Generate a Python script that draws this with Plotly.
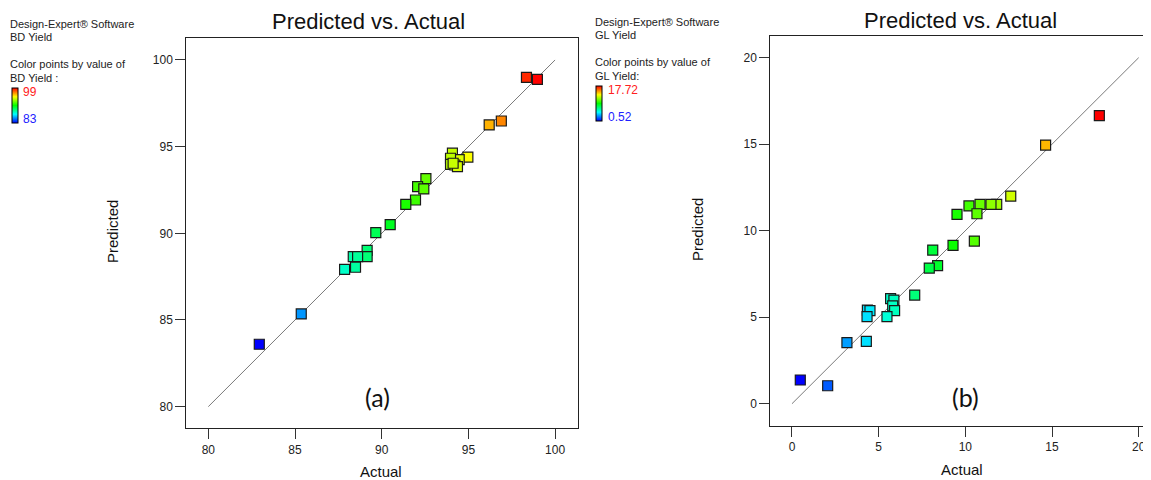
import plotly.graph_objects as go

# page body has an 8px default margin, so the figure is 8px smaller and every
# reference pixel position is shifted by 8px
OFF = 8
W, H = 1151 - OFF, 480 - OFF

# ---------------- data ----------------
bd_actual = [98.35, 98.98, 96.2, 96.9, 94.08, 94.97, 94.47, 93.97, 93.97, 94.22, 94.37, 94.12,
             92.55, 92.07, 92.43, 91.95, 91.39, 90.49, 89.66, 89.16, 89.16, 88.36, 88.61, 88.49,
             87.86, 85.36, 82.94]
bd_pred = [99.0, 98.88, 96.25, 96.48, 94.62, 94.40, 94.25, 94.33, 93.98, 93.94, 93.85, 94.04,
           93.15, 92.69, 92.56, 91.92, 91.67, 90.5, 90.04, 89.02, 88.65, 88.65, 88.65, 88.04,
           87.92, 85.35, 83.6]

gl_actual = [17.73, 14.63, 12.62, 11.81, 11.48, 10.85, 10.21, 10.67, 9.52, 10.52, 9.29, 8.12,
             8.40, 7.92, 7.08, 5.69, 5.88, 5.81, 5.92, 5.48, 4.35, 4.5, 4.33, 4.29, 3.17, 2.06, 0.48]
gl_pred = [16.65, 14.95, 12.0, 11.52, 11.52, 11.52, 11.43, 10.98, 10.94, 9.40, 9.15, 8.88,
           7.98, 7.84, 6.28, 6.07, 5.99, 5.65, 5.38, 5.03, 5.41, 5.38, 5.03, 3.60, 3.53, 1.04, 1.37]

bd_line = [80, 100]
gl_line = [0, 20]
bd_ticks = [80, 85, 90, 95, 100]
gl_ticks = [0, 5, 10, 15, 20]
bd_range_label = ["99", "83"]
gl_range_label = ["17.72", "0.52"]

scale = [[0, "rgb(0,0,255)"], [0.25, "rgb(0,255,255)"], [0.5, "rgb(0,255,0)"],
         [0.75, "rgb(255,255,0)"], [1, "rgb(255,0,0)"]]

FONT = "Liberation Sans, Arial, sans-serif"


def px(x):
    return (x - OFF) / W


def py(y):
    return 1 - (y - OFF) / H


fig = go.Figure()

# diagonal lines
fig.add_trace(go.Scatter(x=bd_line, y=bd_line, mode="lines", line=dict(color="#7a7a7a", width=1),
                         xaxis="x", yaxis="y", hoverinfo="skip"))
fig.add_trace(go.Scatter(x=gl_line, y=gl_line, mode="lines", line=dict(color="#7a7a7a", width=1),
                         xaxis="x2", yaxis="y2", hoverinfo="skip"))


def cbar(x, y):
    return dict(xref="paper", yref="paper", x=px(x), y=py(y),
                xanchor="left", yanchor="middle", lenmode="pixels", len=35, thickness=6,
                outlinewidth=1, outlinecolor="#000", xpad=0, ypad=0, showticklabels=False,
                ticks="")


fig.add_trace(go.Scatter(
    x=bd_actual, y=bd_pred, mode="markers", xaxis="x", yaxis="y",
    marker=dict(symbol="square", size=10, color=bd_actual, cmin=83, cmax=99, colorscale=scale,
                line=dict(color="#1a1a1a", width=1.2), showscale=True, colorbar=cbar(12, 105.5))))
fig.add_trace(go.Scatter(
    x=gl_actual, y=gl_pred, mode="markers", xaxis="x2", yaxis="y2",
    marker=dict(symbol="square", size=10, color=gl_actual, cmin=0.52, cmax=17.72, colorscale=scale,
                line=dict(color="#1a1a1a", width=1.2), showscale=True, colorbar=cbar(596.5, 103.5))))

axis_common = dict(showgrid=False, zeroline=False, showline=True, linecolor="#222", linewidth=1,
                   ticks="outside", ticklen=10, tickcolor="#333", tickwidth=1, automargin=False,
                   ticklabeloverflow="allow",
                   tickfont=dict(family=FONT, size=12, color="#222"))

fig.update_layout(
    width=W, height=H, margin=dict(l=0, r=0, t=0, b=0, autoexpand=False),
    paper_bgcolor="white", plot_bgcolor="white", showlegend=False,
    xaxis=dict(domain=[px(186.3), px(578.3)], range=[78.73, 101.34], tickvals=bd_ticks,
               mirror=True, anchor="y", **axis_common),
    yaxis=dict(domain=[py(428.3), py(38.3)], range=[78.75, 101.25], tickvals=bd_ticks,
               mirror=True, anchor="x", **axis_common),
    xaxis2=dict(domain=[px(770.3), 1.0], range=[-1.25, 20.71], tickvals=gl_ticks,
                mirror=True, anchor="y2", **axis_common),
    yaxis2=dict(domain=[py(425.7), py(35.7)], range=[-1.27, 21.27], tickvals=gl_ticks,
                mirror=False, anchor="x2", **axis_common),
)


def txt(x, y, s, size=11, color="#222", family=FONT, anchor="left", angle=0):
    fig.add_annotation(x=px(x), y=py(y), xref="paper", yref="paper", text=s, showarrow=False,
                       xanchor=anchor, yanchor="middle", textangle=angle,
                       font=dict(family=family, size=size, color=color))


# left side info text
txt(8, 24, "Design-Expert® Software")
txt(8, 37, "BD Yield")
txt(8, 64, "Color points by value of")
txt(8, 78, "BD Yield :")
txt(21, 92, bd_range_label[0], size=12, color="#ff2020")
txt(21, 119, bd_range_label[1], size=12, color="#2020ff")

txt(593, 22, "Design-Expert® Software")
txt(593, 35, "GL Yield")
txt(593, 62, "Color points by value of")
txt(593, 76, "GL Yield:")
txt(606, 90, gl_range_label[0], size=12, color="#ff2020")
txt(606, 117, gl_range_label[1], size=12, color="#2020ff")

# titles
txt(368, 21, "Predicted vs. Actual", size=22, color="#111", anchor="center")
txt(960, 20, "Predicted vs. Actual", size=22, color="#111", anchor="center")

# axis titles
txt(381, 471, "Actual", size=15, color="#111", anchor="center")
txt(962, 469, "Actual", size=15, color="#111", anchor="center")
txt(112, 232, "Predicted", size=15, color="#111", anchor="center", angle=-90)
txt(697, 230, "Predicted", size=15, color="#111", anchor="center", angle=-90)

# panel labels
txt(377, 397, "(a)", size=25, color="#111", family="Lato, Open Sans, sans-serif", anchor="center")
txt(965, 397, "(b)", size=25, color="#111", family="Lato, Open Sans, sans-serif", anchor="center")

fig.write_html("out.html")
